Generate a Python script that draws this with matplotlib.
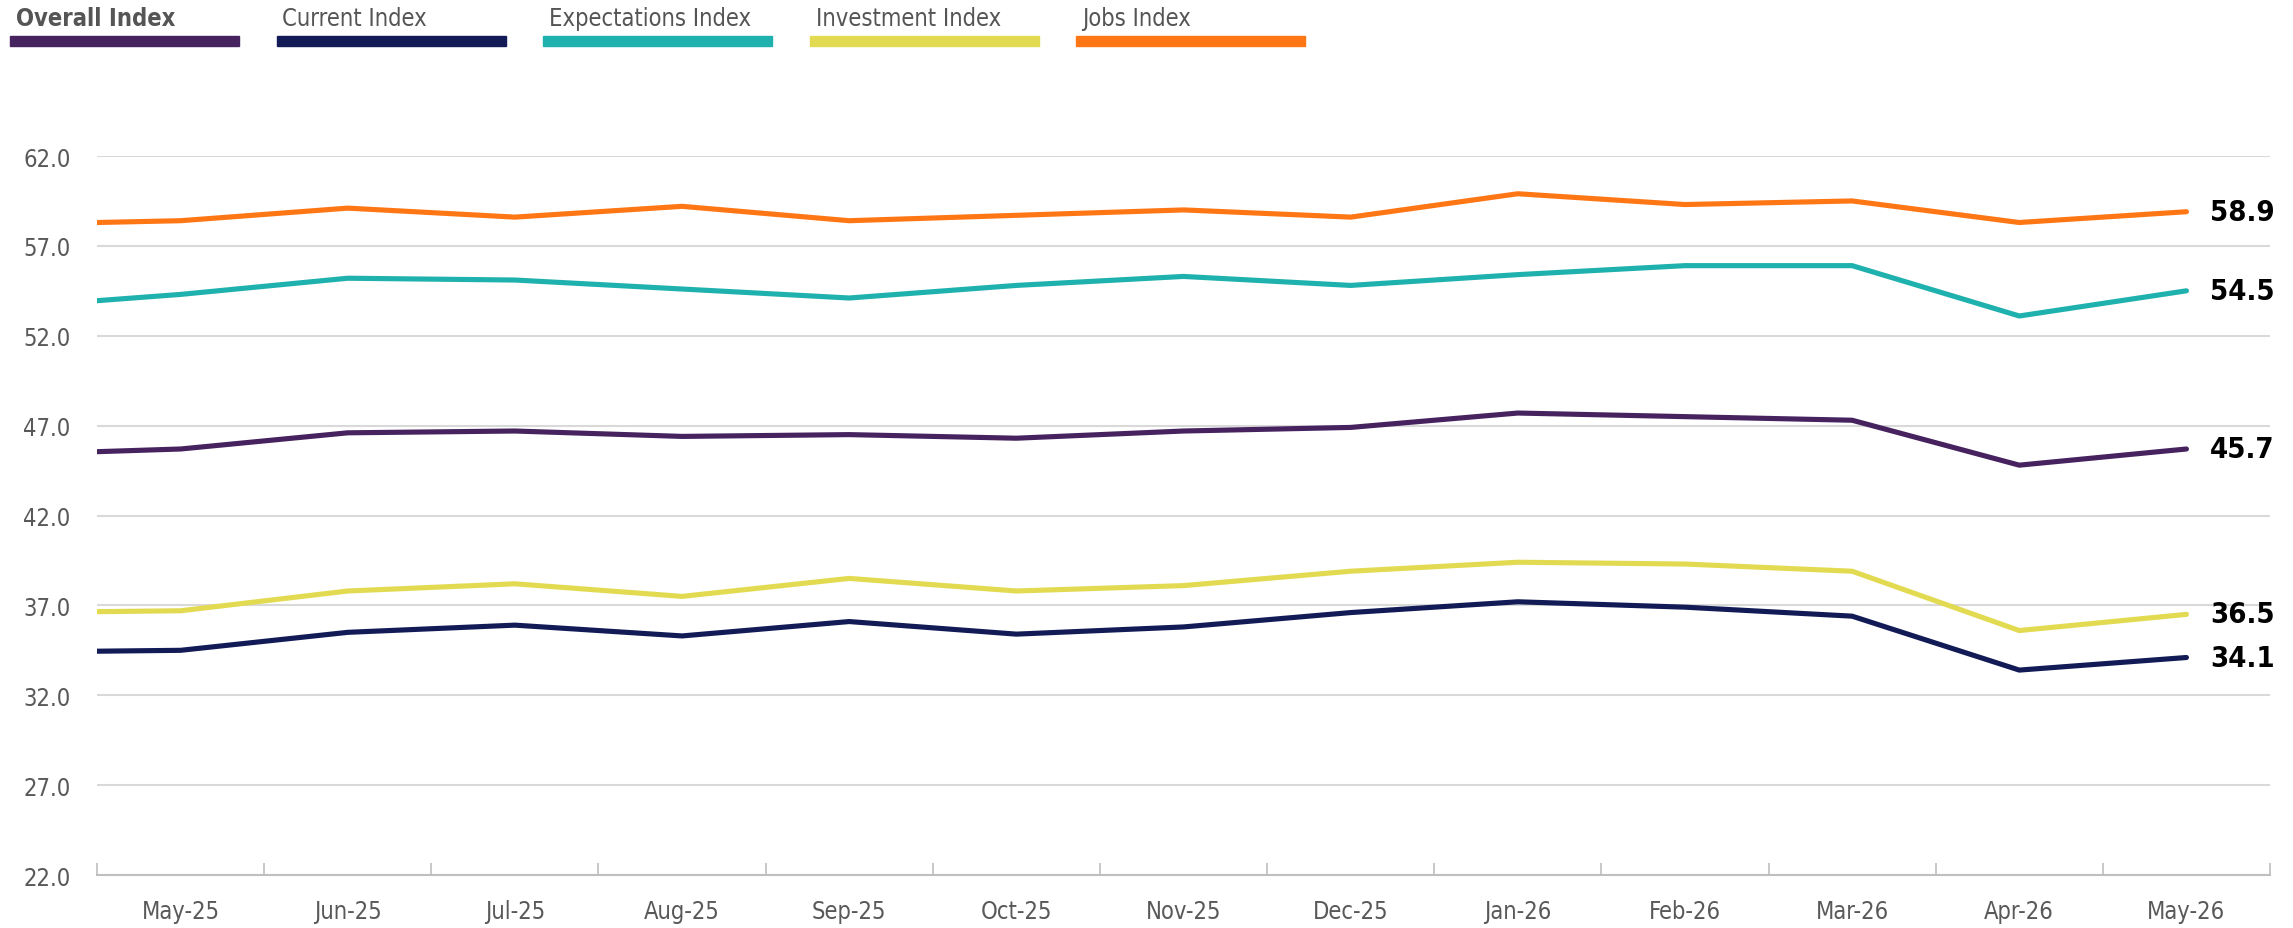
import matplotlib
matplotlib.use("Agg")
import matplotlib.pyplot as plt
from matplotlib.patches import Rectangle
from matplotlib.ticker import FixedLocator

# data; first value (Apr-25) sits just off the left edge
months = ["Apr-25", "May-25", "Jun-25", "Jul-25", "Aug-25", "Sep-25", "Oct-25",
          "Nov-25", "Dec-25", "Jan-26", "Feb-26", "Mar-26", "Apr-26", "May-26"]
overall = [45.4, 45.7, 46.6, 46.7, 46.4, 46.5, 46.3, 46.7, 46.9, 47.7, 47.5, 47.3, 44.8, 45.7]
current = [34.4, 34.5, 35.5, 35.9, 35.3, 36.1, 35.4, 35.8, 36.6, 37.2, 36.9, 36.4, 33.4, 34.1]
expectations = [53.6, 54.3, 55.2, 55.1, 54.6, 54.1, 54.8, 55.3, 54.8, 55.4, 55.9, 55.9, 53.1, 54.5]
investment = [36.6, 36.7, 37.8, 38.2, 37.5, 38.5, 37.8, 38.1, 38.9, 39.4, 39.3, 38.9, 35.6, 36.5]
jobs = [58.2, 58.4, 59.1, 58.6, 59.2, 58.4, 58.7, 59.0, 58.6, 59.9, 59.3, 59.5, 58.3, 58.9]

names = ["Overall Index", "Current Index", "Expectations Index", "Investment Index", "Jobs Index"]
colors = ["#46235f", "#121b56", "#1fb1ad", "#e2db52", "#ff7615"]
series = [overall, current, expectations, investment, jobs]
y_ticks = [22, 27, 32, 37, 42, 47, 52, 57, 62]

plt.rcParams["font.family"] = ["DejaVu Sans"]
plt.rcParams["font.stretch"] = "condensed"

W, H = 2293, 929
fig = plt.figure(figsize=(W / 100, H / 100), dpi=100)
ax = fig.add_axes([97 / W, 53 / H, (2270 - 97) / W, (876 - 157) / H])

x = list(range(-1, len(months) - 1))
for vals, c in zip(series, colors):
    ax.plot(x, vals, color=c, lw=3.7, solid_capstyle="round", zorder=3)
    ax.text(x[-1] + 0.14, vals[-1], f"{vals[-1]:.1f}", ha="left", va="center",
            fontsize=21, fontweight="bold", color="black", clip_on=False)

ax.set_xlim(-0.5, len(months) - 1.5)
ax.set_ylim(y_ticks[0], y_ticks[-1])
ax.set_yticks(y_ticks)
ax.set_yticklabels([f"{v:.1f}" for v in y_ticks])
ax.set_xticks(x[1:])
ax.set_xticklabels(months[1:])
ax.xaxis.set_minor_locator(FixedLocator([i - 0.5 for i in range(len(months))]))

ax.grid(axis="y", color="#d9d9d9", lw=1.5, zorder=0)
ax.tick_params(axis="y", length=0, pad=19, labelsize=17, labelcolor="#595959")
ax.tick_params(axis="x", which="major", length=0, pad=17, labelsize=17, labelcolor="#595959")
ax.tick_params(axis="x", which="minor", direction="in", length=9, width=1.2, color="#bfbfbf")
for s in ["top", "right", "left"]:
    ax.spines[s].set_visible(False)
ax.spines["bottom"].set_color("#bfbfbf")
ax.spines["bottom"].set_linewidth(1.5)

# legend drawn by hand: label above a thick colour bar
for i, (name, c) in enumerate(zip(names, colors)):
    x0 = 10 + i * 266.5
    fig.patches.append(Rectangle((x0 / W, 1 - 47 / H), 229 / W, 10 / H,
                                 transform=fig.transFigure, color=c))
    fig.text((x0 + 6) / W, 1 - 19 / H, name, ha="left", va="center", fontsize=17,
             color="#555555", fontweight="bold" if i == 0 else "normal")

fig.savefig("out.png", dpi=100)
